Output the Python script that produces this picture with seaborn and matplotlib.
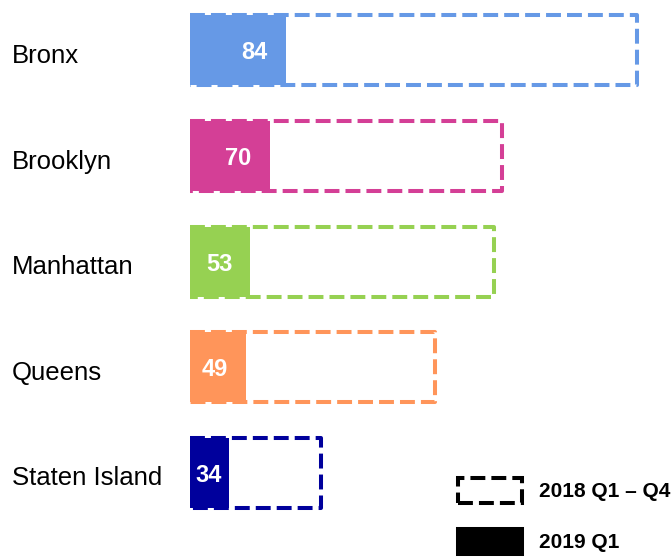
import numpy as np
import pandas as pd
import matplotlib
matplotlib.use('Agg')
import matplotlib.pyplot as plt
import matplotlib.transforms as mtransforms
from matplotlib.patches import Patch
import seaborn as sns

# data
boroughs = ['Bronx', 'Brooklyn', 'Manhattan', 'Queens', 'Staten Island']
q1_2019 = [84, 70, 53, 49, 34]
total_2018 = [392, 274, 267, 215, 115]
colors = ['#6699E6', '#D43F96', '#96D152', '#FF955A', '#00009C']
legend_labels = ['2018 Q1 \u2013 Q4', '2019 Q1']

df = pd.DataFrame({'Borough': boroughs, '2019': q1_2019, '2018': total_2018})

sns.set_style('white')
plt.rcParams['font.family'] = ['Liberation Sans', 'DejaVu Sans']
plt.rcParams['text.color'] = 'black'
plt.rcParams['ytick.color'] = 'black'

fig = plt.figure(figsize=(6.71, 5.58), dpi=100)
ax = fig.add_axes([190 / 671, 0, 481 / 671, 1])

# filled bars (2019 Q1)
sns.barplot(data=df, x='2019', y='Borough', hue='Borough', palette=colors,
            saturation=1, width=0.663, linewidth=0, legend=False, ax=ax)
# dashed outline bars (2018 total)
sns.barplot(data=df, x='2018', y='Borough', hue='Borough', palette=colors,
            saturation=1, width=0.663, fill=False, linewidth=2.9,
            linestyle=(0, (3.7, 1.5)), legend=False, ax=ax)
for p in ax.patches:
    p.set_joinstyle('round')

ax.set_xlim(0, 481 / 1.14)
ax.set_ylim(4.806, -0.478)

# value labels inside filled bars
for i, v in enumerate(q1_2019):
    ax.text(max(v - 16, 28), i, str(v), color='white', fontsize=17,
            fontweight='bold', ha='right', va='center_baseline')

ax.set_xlabel('')
ax.set_ylabel('')
ax.set_xticks([])
ax.set_yticks(range(len(boroughs)))
ax.set_yticklabels(boroughs, fontsize=18.5, ha='left', color='black')
ax.tick_params(axis='y', length=0, pad=128)
shift = mtransforms.ScaledTranslation(0, -3 / 100, fig.dpi_scale_trans)
for lab in ax.get_yticklabels():
    lab.set_transform(lab.get_transform() + shift)
sns.despine(ax=ax, left=True, bottom=True)

handles = [Patch(facecolor='white', edgecolor='black', linewidth=2.9,
                 linestyle=(0, (3.7, 1.5)), joinstyle='round'),
           Patch(facecolor='black', edgecolor='black', linewidth=2.9)]
fig.legend(handles, legend_labels, loc='upper left',
           bbox_to_anchor=(458 / 671, 1 - 478 / 558), borderaxespad=0,
           borderpad=0, frameon=False, handlelength=3.05, handleheight=1.45,
           handletextpad=0.85, labelspacing=1.25,
           prop={'size': 15, 'weight': 'bold'})

fig.savefig('out.png', dpi=100)
